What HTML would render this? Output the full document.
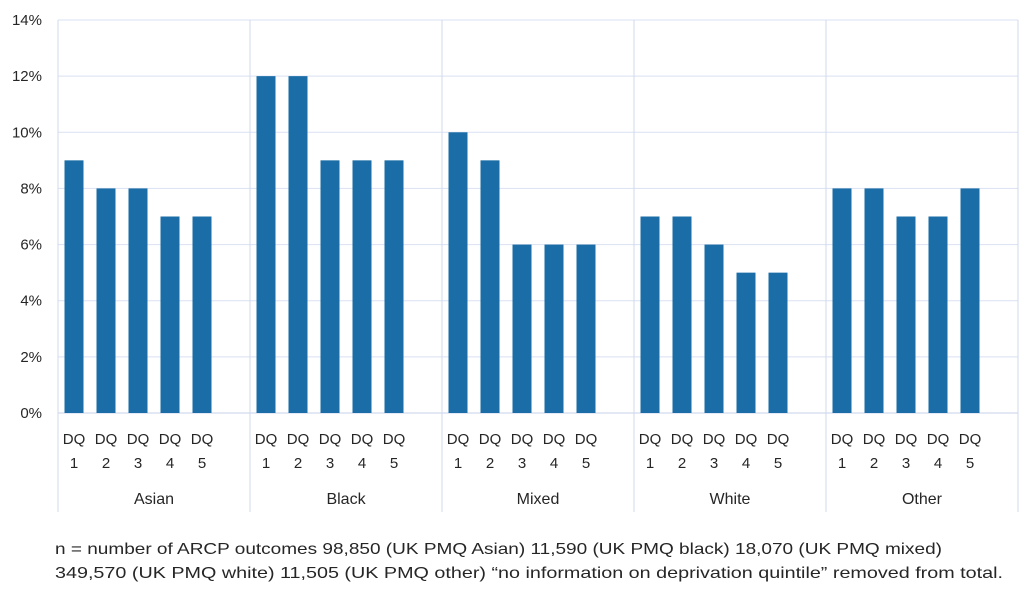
<!DOCTYPE html>
<html><head><meta charset="utf-8"><style>
body{margin:0;background:#fff;width:1024px;height:598px;overflow:hidden;font-family:"Liberation Sans",sans-serif}
svg text{font-family:"Liberation Sans",sans-serif;fill:#262626}
</style></head><body>
<svg width="1024" height="598">
<g id="grid"></g>
<g id="bars"></g>
<g id="xax"></g>
<g id="yax"></g>
<text x="55" y="554" font-size="16" textLength="887" lengthAdjust="spacingAndGlyphs">n = number of ARCP outcomes 98,850  (UK PMQ Asian) 11,590  (UK PMQ black)  18,070  (UK PMQ mixed)</text>
<text x="55" y="578" font-size="16" textLength="948" lengthAdjust="spacingAndGlyphs">349,570  (UK PMQ white) 11,505  (UK PMQ other)  “no information on deprivation quintile” removed from total.</text>
</svg>
<script>
const groups=["Asian","Black","Mixed","White","Other"];
const subs=["1","2","3","4","5"];
const values=[[9,8,8,7,7],[12,12,9,9,9],[10,9,6,6,6],[7,7,6,5,5],[8,8,7,7,8]];
const yTicks=[0,2,4,6,8,10,12,14];
const NS="http://www.w3.org/2000/svg";
const x0=58,x1=1018,y0=413,y1=20,yMax=14;
const gw=(x1-x0)/groups.length,slot=gw/6,bw=19;
const ys=v=>y0-(v/yMax)*(y0-y1);
function mk(t,a,p,txt){const e=document.createElementNS(NS,t);for(const k in a)e.setAttribute(k,a[k]);if(txt!==undefined)e.textContent=txt;p.appendChild(e);return e;}
const grid=document.getElementById('grid'),bars=document.getElementById('bars'),xax=document.getElementById('xax'),yax=document.getElementById('yax');
yTicks.forEach(t=>{
 const l=mk('line',{x1:x0,x2:x1,y1:ys(t),y2:ys(t),stroke:t===0?'#c8d0e8':'#d9e1f2','stroke-width':1},grid);
 
 
 const tx=mk('text',{x:42,y:ys(t)+5,'text-anchor':'end','font-size':15},yax,t+'%');
 
 
});
groups.forEach((g,gi)=>{
 const gx=x0+gi*gw;
 const sep=mk('line',{x1:gx,x2:gx,y1:y1,y2:512,stroke:'#d0d8ec','stroke-width':1},xax);
 
 
 const gl=mk('text',{x:gx+gw/2,y:504,'text-anchor':'middle','font-size':16},xax,g);
 
 
 values[gi].forEach((v,i)=>{
  const bx=gx+i*slot+(slot-bw)/2;
  const r=mk('rect',{x:bx,y:ys(v),width:bw,height:y0-ys(v),fill:'#1a6da6'},bars);
  
  
  const t1=mk('text',{x:bx+bw/2,y:444,'text-anchor':'middle','font-size':15},xax,'DQ');
  
  
  const t2=mk('text',{x:bx+bw/2,y:468,'text-anchor':'middle','font-size':15},xax,subs[i]);
  
  
 });
});
const last=mk('line',{x1:x1,x2:x1,y1:y1,y2:512,stroke:'#d0d8ec','stroke-width':1},xax);


</script>
</body></html>
